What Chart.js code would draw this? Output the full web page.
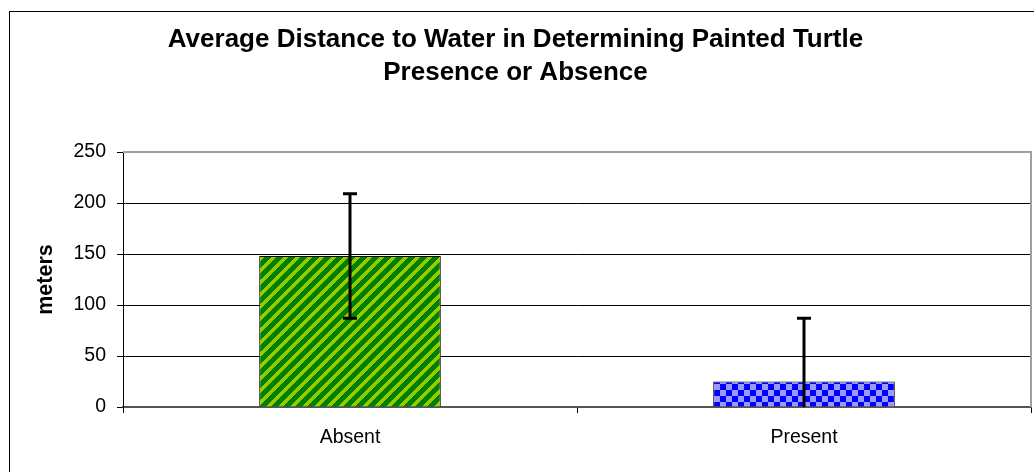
<!DOCTYPE html>
<html>
<head>
<meta charset="utf-8">
<script src="https://cdn.jsdelivr.net/npm/chart.js@4/dist/chart.umd.min.js"></script>
<style>
  html, body { margin: 0; padding: 0; background: #fff; }
  #wrap { width: 1034px; height: 472px; }
</style>
</head>
<body>
<div id="wrap"><canvas id="grafico"></canvas></div>
<script>
// Datos
const categorias = ['Absent', 'Present'];
const medias = [148, 25];
const errores = [61, 62];
const ticksY = [0, 50, 100, 150, 200, 250];

// Tramas tipo Excel
function tramaRayas() {
    const n = 12;
    const c = document.createElement('canvas');
    c.width = n; c.height = n;
    const g = c.getContext('2d');
    for (let x = 0; x < n; x++) {
        for (let y = 0; y < n; y++) {
            g.fillStyle = ((x + y) % n) < 5 ? '#99cc00' : '#008000';
            g.fillRect(x, y, 1, 1);
        }
    }
    return g.createPattern(c, 'repeat');
}

function tramaCuadros() {
    const c = document.createElement('canvas');
    c.width = 12; c.height = 12;
    const g = c.getContext('2d');
    g.fillStyle = '#9999ff';
    g.fillRect(0, 0, 12, 12);
    g.fillStyle = '#0000ff';
    g.fillRect(0, 0, 6, 6);
    g.fillRect(6, 6, 6, 6);
    return g.createPattern(c, 'repeat');
}

// Marco exterior y borde del área de trazado
const marco = {
    id: 'marco',
    beforeDraw(chart) {
        const ctx = chart.ctx;
        ctx.save();
        ctx.strokeStyle = '#000';
        ctx.lineWidth = 1;
        ctx.strokeRect(9.5, 11.5, 1100, 600);
        ctx.restore();
    },
    afterDatasetsDraw(chart) {
        const { ctx, chartArea: a } = chart;
        ctx.save();
        ctx.strokeStyle = '#a0a0a0';
        ctx.lineWidth = 2;
        ctx.beginPath();
        ctx.moveTo(a.left, a.top);
        ctx.lineTo(a.right, a.top);
        ctx.lineTo(a.right, a.bottom);
        ctx.stroke();
        ctx.restore();
    }
};

// Barras de error
const barrasError = {
    id: 'barrasError',
    afterDatasetsDraw(chart) {
        const ctx = chart.ctx;
        const y = chart.scales.y;
        const meta = chart.getDatasetMeta(0);
        ctx.save();
        ctx.strokeStyle = '#000';
        ctx.lineWidth = 3;
        meta.data.forEach((barra, i) => {
            const x = Math.round(barra.x);
            const arriba = y.getPixelForValue(medias[i] + errores[i]);
            const bajoValor = medias[i] - errores[i];
            const abajo = y.getPixelForValue(Math.max(bajoValor, 0));
            ctx.beginPath();
            ctx.moveTo(x, arriba);
            ctx.lineTo(x, abajo);
            ctx.moveTo(x - 7, arriba);
            ctx.lineTo(x + 7, arriba);
            if (bajoValor >= 0) {
                ctx.moveTo(x - 7, abajo);
                ctx.lineTo(x + 7, abajo);
            }
            ctx.stroke();
        });
        ctx.restore();
    }
};

const fuente = "'Liberation Sans', Arial, sans-serif";

new Chart(document.getElementById('grafico'), {
    type: 'bar',
    data: {
        labels: categorias,
        datasets: [{
            data: medias,
            backgroundColor: [tramaRayas(), tramaCuadros()],
            borderColor: '#000',
            borderWidth: 1,
            barPercentage: 0.4,
            categoryPercentage: 1
        }]
    },
    options: {
        responsive: true,
        maintainAspectRatio: false,
        animation: false,
        layout: { padding: { left: 0, right: 3, top: 0, bottom: 0 } },
        plugins: {
            legend: { display: false },
            tooltip: { enabled: false },
            title: {
                display: true,
                text: ['Average Distance to Water in Determining Painted Turtle', 'Presence or Absence'],
                color: '#000',
                font: { family: fuente, size: 26, weight: 'bold', lineHeight: '33px' },
                padding: { top: 23, bottom: 63 }
            }
        },
        scales: {
            x: {
                afterFit(s) { s.height = 65; },
                grid: { drawOnChartArea: false, drawTicks: true, tickLength: 6, color: '#000', offset: true },
                border: { color: '#555', width: 2 },
                ticks: { color: '#000', font: { family: fuente, size: 19.5 }, padding: 13 }
            },
            y: {
                min: 0,
                max: 250,
                afterFit(s) { s.width = 123; },
                afterBuildTicks(s) { s.ticks = ticksY.map(v => ({ value: v })); },
                grid: { color: '#000', tickLength: 6, tickColor: '#000' },
                border: { color: '#000', width: 1 },
                ticks: { color: '#000', font: { family: fuente, size: 19.5 }, padding: 11 },
                title: {
                    display: true,
                    text: 'meters',
                    color: '#000',
                    font: { family: fuente, size: 21.5, weight: 'bold' },
                    padding: { top: 33, bottom: 0 }
                }
            }
        }
    },
    plugins: [marco, barrasError]
});
</script>
</body>
</html>
